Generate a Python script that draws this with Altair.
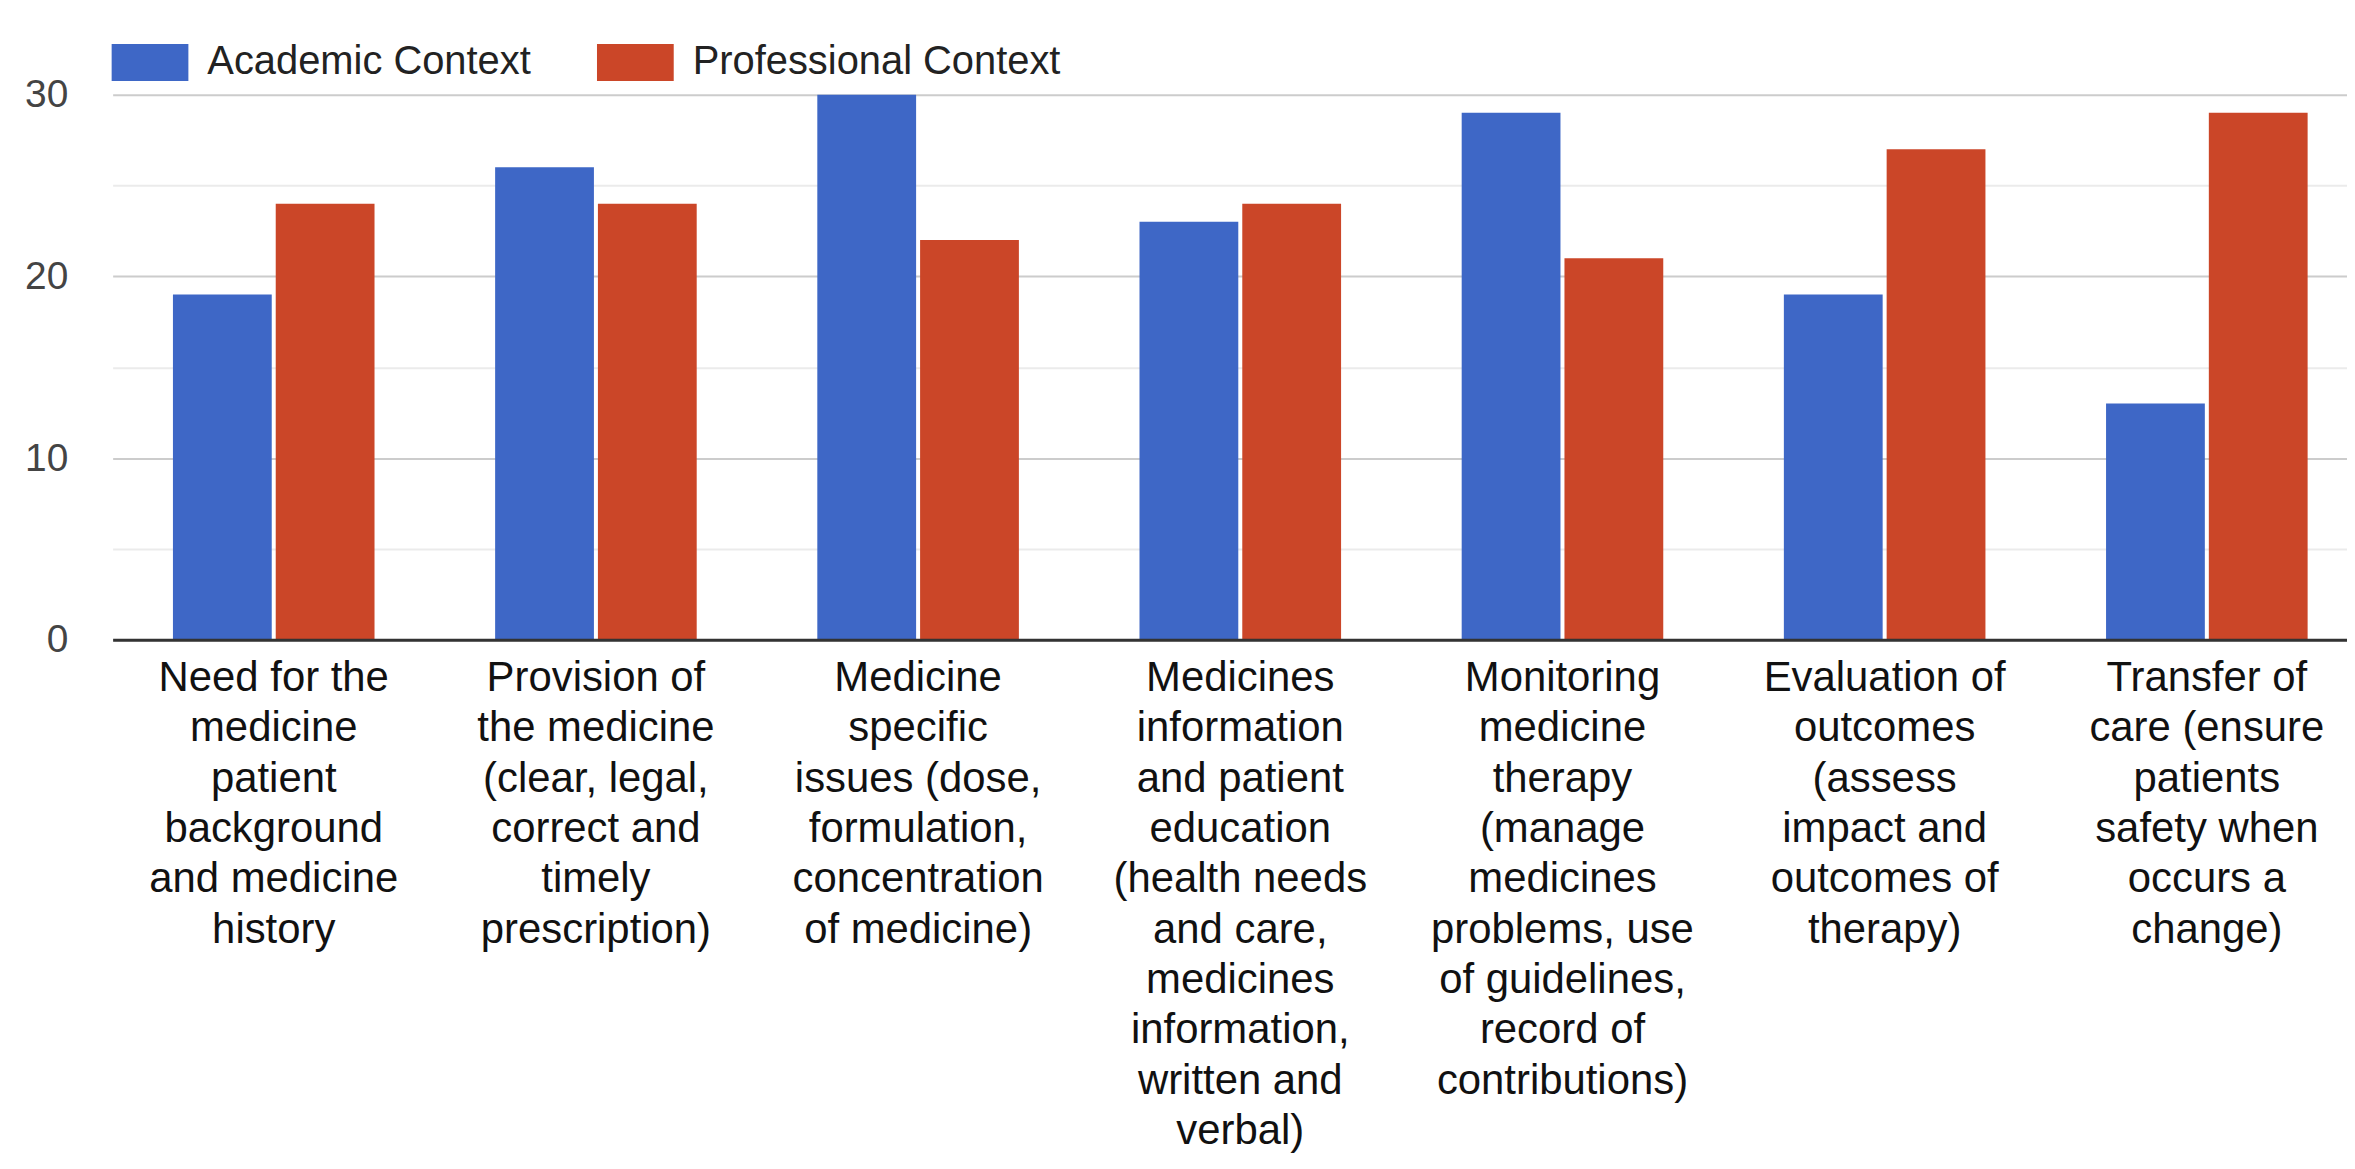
import altair as alt
import pandas as pd

# --- data -------------------------------------------------------------
label_lines = [
    ["Need for the", "medicine", "patient", "background", "and medicine", "history"],
    ["Provision of", "the medicine", "(clear, legal,", "correct and", "timely", "prescription)"],
    ["Medicine", "specific", "issues (dose,", "formulation,", "concentration", "of medicine)"],
    ["Medicines", "information", "and patient", "education", "(health needs", "and care,",
     "medicines", "information,", "written and", "verbal)"],
    ["Monitoring", "medicine", "therapy", "(manage", "medicines", "problems, use",
     "of guidelines,", "record of", "contributions)"],
    ["Evaluation of", "outcomes", "(assess", "impact and", "outcomes of", "therapy)"],
    ["Transfer of", "care (ensure", "patients", "safety when", "occurs a", "change)"],
]
categories = ["\n".join(l) for l in label_lines]
series = ["Academic Context", "Professional Context"]
academic = [19, 26, 30, 23, 29, 19, 13]
professional = [24, 24, 22, 24, 21, 27, 29]
y_ticks = [0, 5, 10, 15, 20, 25, 30]
colors = ["#3e67c6", "#cb4628"]

rows = []
for c, a, p in zip(categories, academic, professional):
    rows.append({"cat": c, "series": series[0], "value": a})
    rows.append({"cat": c, "series": series[1], "value": p})
df = pd.DataFrame(rows)

FONT = "Liberation Sans"

chart = alt.Chart(df).mark_bar().encode(
    x=alt.X(
        "cat:N",
        sort=categories,
        scale=alt.Scale(range=[3, 2266], paddingInner=0, paddingOuter=0),
        axis=alt.Axis(
            title=None,
            labelAngle=0,
            labelExpr="split(datum.label, '\\n')",
            labelFont=FONT,
            labelFontSize=42,
            labelColor="#111111",
            labelLineHeight=50.5,
            labelBaseline="top",
            labelPadding=18,
            labelLimit=0,
            ticks=False,
            tickSize=0,
            domain=True,
            domainColor="#333333",
            domainWidth=3,
            grid=False,
            zindex=1,
        ),
    ),
    xOffset=alt.XOffset(
        "series:N",
        sort=series,
        scale=alt.Scale(paddingInner=0.0388, paddingOuter=0.5867),
    ),
    y=alt.Y(
        "value:Q",
        scale=alt.Scale(domain=[0, 30], nice=False),
        axis=alt.Axis(
            title=None,
            values=y_ticks,
            labelExpr="datum.value % 10 === 0 ? datum.label : ''",
            labelFont=FONT,
            labelFontSize=39,
            labelColor="#444444",
            labelPadding=42,
            ticks=False,
            domain=False,
            grid=True,
            gridColor={"condition": {"test": "datum.value % 10 === 0", "value": "#cccccc"},
                       "value": "#ebebeb"},
            gridWidth=2,
        ),
    ),
    color=alt.Color(
        "series:N",
        sort=series,
        scale=alt.Scale(domain=series, range=colors),
        legend=alt.Legend(
            title=None,
            orient="none",
            legendX=2,
            legendY=-71,
            direction="horizontal",
            symbolType="M-1,-0.48H1V0.48H-1Z",
            symbolSize=5929,
            symbolStrokeWidth=0,
            symbolOpacity=1,
            labelFont=FONT,
            labelFontSize=40,
            labelColor="#222222",
            labelOffset=19,
            columnPadding=66,
            labelLimit=0,
            padding=0,
        ),
    ),
).properties(
    width=2245,
    height=547,
    autosize=alt.AutoSizeParams(type="none"),
    padding={"left": 102, "top": 85, "right": 0, "bottom": 516},
).configure_view(stroke=None)

chart.save("out.html", embed_options={"renderer": "svg", "actions": False})
